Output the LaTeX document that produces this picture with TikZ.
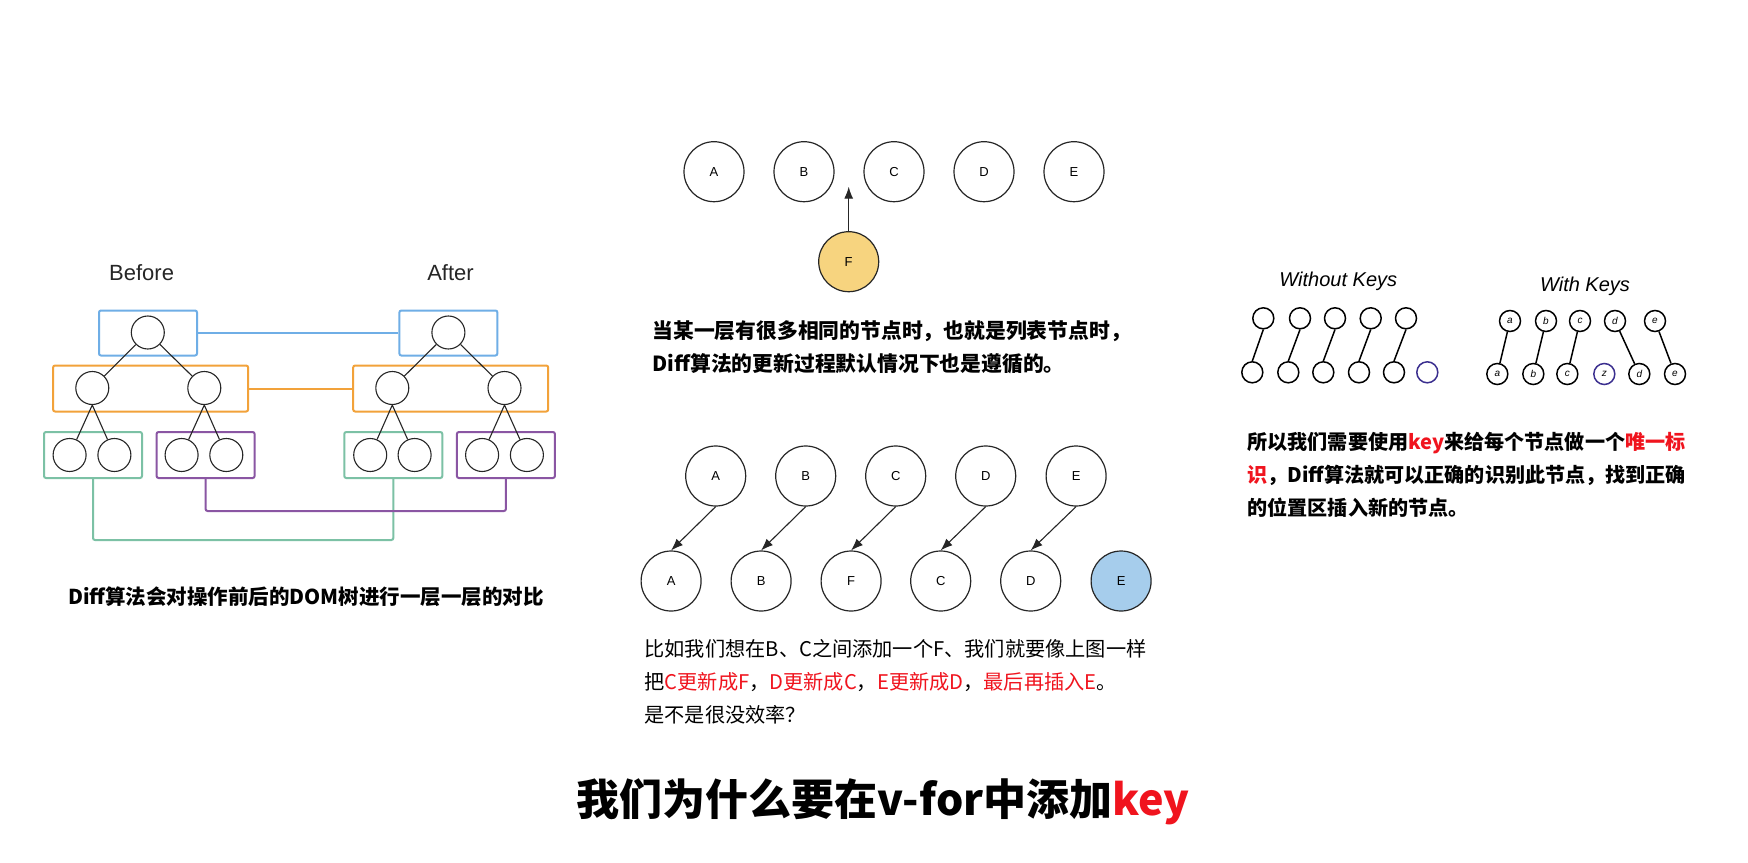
\documentclass[tikz,border=0pt]{standalone}
\usepackage{fontspec}
\setmainfont{Liberation Sans}
\newfontfamily\cjk{Noto Sans CJK SC}
\usetikzlibrary{positioning, arrows.meta}
\definecolor{ink}{HTML}{262626}
\definecolor{lvblue}{HTML}{6FAEE6}
\definecolor{lvorange}{HTML}{F2A23A}
\definecolor{lvgreen}{HTML}{7CC1A5}
\definecolor{lvpurple}{HTML}{8A56A3}
\definecolor{fillF}{HTML}{F7D47F}
\definecolor{fillE}{HTML}{A6CDEC}
\definecolor{newnode}{HTML}{3B2F8F}
\definecolor{keyred}{HTML}{F0141E}

\begin{document}
\begin{tikzpicture}[x=1pt, y=-1pt,
  treenode/.style={circle, draw=ink, line width=1.1pt, minimum size=33pt, inner sep=0pt},
  levelbox/.style={draw=#1, line width=2pt, rounded corners=2pt, inner sep=0pt},
  listnode/.style={circle, draw=ink, line width=1.2pt, minimum size=60pt, inner sep=0pt,
                   font=\fontsize{13}{13}\selectfont},
  sketchnode/.style={circle, draw=black, line width=1.5pt, minimum size=21pt, inner sep=0pt,
                     font=\itshape\fontsize{10}{10}\selectfont},
  moveto/.style={-{Latex[length=12pt, width=9pt]}, line width=1.1pt, ink}
]
  \useasboundingbox (0,0) rectangle (1748,862);
  \fill[white] (0,0) rectangle (1748,862);

  % headers
  \node[font=\fontsize{22}{22}\selectfont, ink] (before) at (141.6,273) {Before};
  \node[font=\fontsize{22}{22}\selectfont, ink] (after) at (450.5,273) {After};

  % level boxes
  \node[levelbox=lvblue, minimum width=98pt, minimum height=45pt] (blueL) at (148,333) {};
  \node[levelbox=lvblue, minimum width=98pt, minimum height=45pt] (blueR) at (448.4,333) {};
  \node[levelbox=lvorange, minimum width=195pt, minimum height=46pt] (orangeL) at (150.6,388.5) {};
  \node[levelbox=lvorange, minimum width=195pt, minimum height=46pt] (orangeR) at (450.7,388.5) {};
  \node[levelbox=lvgreen, minimum width=98pt, minimum height=46pt] (greenL) at (93,455) {};
  \node[levelbox=lvpurple, minimum width=98pt, minimum height=46pt] (purpleL) at (205.6,455) {};
  \node[levelbox=lvgreen, minimum width=98pt, minimum height=46pt] (greenR) at (393.3,455) {};
  \node[levelbox=lvpurple, minimum width=98pt, minimum height=46pt] (purpleR) at (505.9,455) {};

  % level links
  \draw[lvblue, line width=2pt] (blueL.east) -- (blueR.west);
  \draw[lvorange, line width=2pt] (orangeL.east) -- (orangeR.west);
  \draw[lvgreen, line width=2pt, rounded corners=2pt] (greenL.south) -- ++(0,61) -| (greenR.south);
  \draw[lvpurple, line width=2pt, rounded corners=2pt] (purpleL.south) -- ++(0,32) -| (purpleR.south);

  % tree before
  \node[treenode] (rootB) at (147.8,332.5) {};
  \node[treenode] (leftB) at (92.3,388) {};
  \node[treenode] (rightB) at (204.3,388) {};
  \node[treenode] (leafB1) at (69.6,455) {};
  \node[treenode] (leafB2) at (114.4,455) {};
  \node[treenode] (leafB3) at (181.6,455) {};
  \node[treenode] (leafB4) at (226.3,455) {};
  \draw[ink, line width=1.1pt] (rootB) -- (leftB) (rootB) -- (rightB);
  \draw[ink, line width=1.1pt] (leftB.south) -- (leafB1) (leftB.south) -- (leafB2);
  \draw[ink, line width=1.1pt] (rightB.south) -- (leafB3) (rightB.south) -- (leafB4);

  % tree after
  \node[treenode] (rootA) at (448.4,332.5) {};
  \node[treenode] (leftA) at (392.3,388) {};
  \node[treenode] (rightA) at (504.5,388) {};
  \node[treenode] (leafA1) at (370.2,455) {};
  \node[treenode] (leafA2) at (414.6,455) {};
  \node[treenode] (leafA3) at (482.1,455) {};
  \node[treenode] (leafA4) at (526.9,455) {};
  \draw[ink, line width=1.1pt] (rootA) -- (leftA) (rootA) -- (rightA);
  \draw[ink, line width=1.1pt] (leftA.south) -- (leafA1) (leftA.south) -- (leafA2);
  \draw[ink, line width=1.1pt] (rightA.south) -- (leafA3) (rightA.south) -- (leafA4);

  \node[font=\cjk\bfseries\fontsize{20.5}{20.5}\selectfont] (treecap) at (306,596.7)
    {Diff算法会对操作前后的DOM树进行一层一层的对比};

  % list with F inserted
  \node[listnode] (topA) at (714,171.7) {A};
  \node[listnode] (topB) at (804,171.7) {B};
  \node[listnode] (topC) at (894,171.7) {C};
  \node[listnode] (topD) at (984,171.7) {D};
  \node[listnode] (topE) at (1074,171.7) {E};
  \node[listnode, fill=fillF] (topF) at (848.7,261.7) {F};
  \coordinate (gapBC) at (848.7,186.7);
  \draw[moveto] (topF.north) -- (gapBC);

  \node[font=\cjk\bfseries\fontsize{20.8}{33}\selectfont, align=left, anchor=west] (listtxt) at (649,347)
    {当某一层有很多相同的节点时，也就是列表节点时，\\Diff算法的更新过程默认情况下也是遵循的。};

  % update without keys
  \node[listnode] (oldA) at (715.7,476) {A};
  \node[listnode] (oldB) at (805.7,476) {B};
  \node[listnode] (oldC) at (895.7,476) {C};
  \node[listnode] (oldD) at (985.7,476) {D};
  \node[listnode] (oldE) at (1076.1,476) {E};
  \node[listnode] (newA) at (671.1,581) {A};
  \node[listnode] (newB) at (761.1,581) {B};
  \node[listnode] (newF) at (851.1,581) {F};
  \node[listnode] (newC) at (940.7,581) {C};
  \node[listnode] (newD) at (1030.7,581) {D};
  \node[listnode, fill=fillE] (newE) at (1121.1,581) {E};
  \draw[moveto] (oldA.south) -- (newA.north);
  \draw[moveto] (oldB.south) -- (newB.north);
  \draw[moveto] (oldC.south) -- (newF.north);
  \draw[moveto] (oldD.south) -- (newC.north);
  \draw[moveto] (oldE.south) -- (newD.north);

  \node[font=\cjk\fontsize{20.2}{33}\selectfont, align=left, anchor=west] (updtxt) at (641,681.5)
    {比如我们想在B、C之间添加一个F、我们就要像上图一样\\
     把\textcolor{keyred}{C更新成F}，\textcolor{keyred}{D更新成C}，\textcolor{keyred}{E更新成D}，\textcolor{keyred}{最后再插入E}。\\
     是不是很没效率？};

  % without keys
  \node[font=\itshape\fontsize{20}{20}\selectfont] (nokeys) at (1338.3,281.7) {Without Keys};
  \node[sketchnode] (wt1) at (1263.3,318.3) {};
  \node[sketchnode] (wt2) at (1300,318.3) {};
  \node[sketchnode] (wt3) at (1335,318.3) {};
  \node[sketchnode] (wt4) at (1370.7,318.3) {};
  \node[sketchnode] (wt5) at (1406,318.3) {};
  \node[sketchnode] (wb1) at (1252.3,372.3) {};
  \node[sketchnode] (wb2) at (1288.3,372.3) {};
  \node[sketchnode] (wb3) at (1323.3,372.3) {};
  \node[sketchnode] (wb4) at (1359,372.3) {};
  \node[sketchnode] (wb5) at (1394,372.3) {};
  \node[sketchnode, draw=newnode] (wb6) at (1427.3,372.3) {};
  \draw[line width=1.5pt] (wt1.south) -- (wb1.north) (wt2.south) -- (wb2.north)
    (wt3.south) -- (wb3.north) (wt4.south) -- (wb4.north) (wt5.south) -- (wb5.north);

  % with keys
  \node[font=\itshape\fontsize{20}{20}\selectfont] (withkeys) at (1585,286.7) {With Keys};
  \node[sketchnode] (kt1) at (1510,321) {a};
  \node[sketchnode] (kt2) at (1546,321) {b};
  \node[sketchnode] (kt3) at (1580,321) {c};
  \node[sketchnode] (kt4) at (1615,321) {d};
  \node[sketchnode] (kt5) at (1655,321) {e};
  \node[sketchnode] (kb1) at (1497.3,374) {a};
  \node[sketchnode] (kb2) at (1533.3,374) {b};
  \node[sketchnode] (kb3) at (1567.3,374) {c};
  \node[sketchnode, draw=newnode] (kb4) at (1604.3,374) {z};
  \node[sketchnode] (kb5) at (1639.3,374) {d};
  \node[sketchnode] (kb6) at (1675,374) {e};
  \draw[line width=1.5pt] (kt1) -- (kb1) (kt2) -- (kb2) (kt3) -- (kb3)
    (kt4) -- (kb5) (kt5) -- (kb6);

  \node[font=\cjk\bfseries\fontsize{20.1}{33}\selectfont, align=left, anchor=west] (keytxt) at (1244,474.5)
    {所以我们需要使用\textcolor{keyred}{key}来给每个节点做一个\textcolor{keyred}{唯一标}\\
     \textcolor{keyred}{识}，Diff算法就可以正确的识别此节点，找到正确\\
     的位置区插入新的节点。};

  % title
  \node[font=\cjk\bfseries\fontsize{43}{43}\selectfont] (title) at (883,802)
    {我们为什么要在v-for中添加\textcolor{keyred}{key}};
\end{tikzpicture}
\end{document}
